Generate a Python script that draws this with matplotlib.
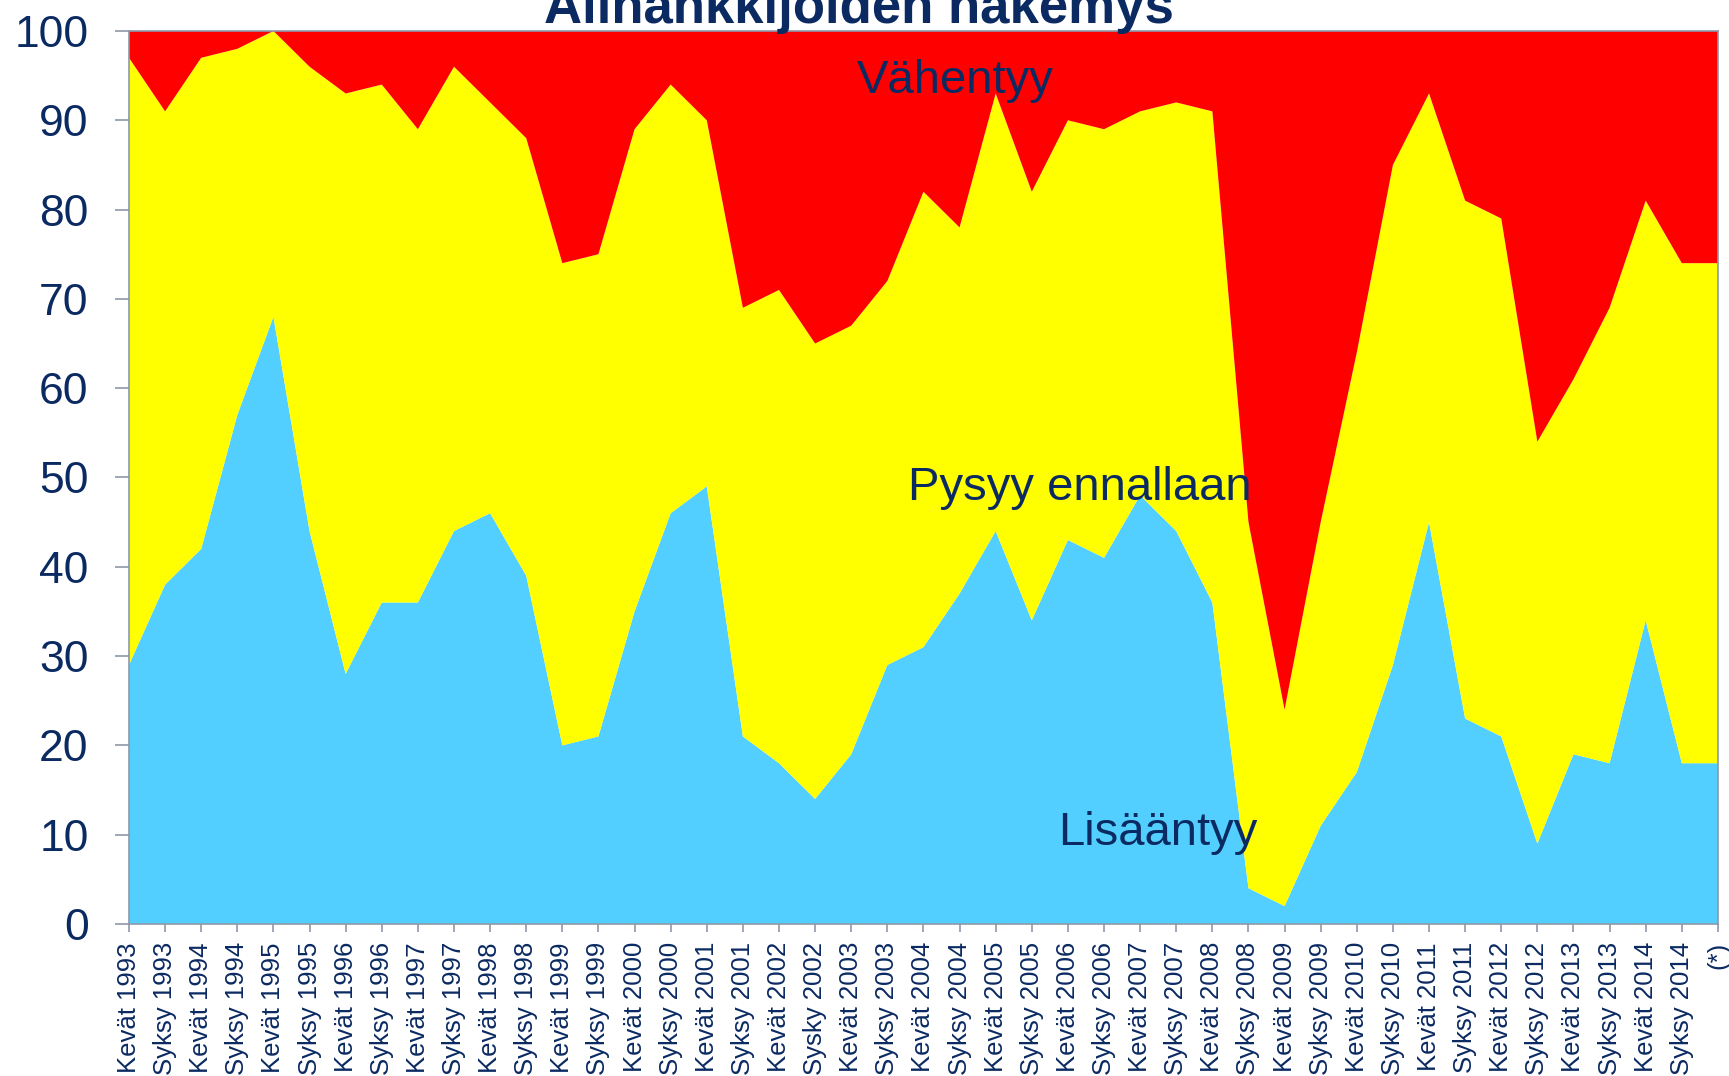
import matplotlib
matplotlib.use("Agg")
import matplotlib.pyplot as plt

plt.rcParams['font.family'] = ['Liberation Sans', 'DejaVu Sans']

# Periods (spring / autumn surveys)
periods = []
for year in range(1993, 2015):
    periods.append('Kevät %d' % year)
    periods.append('Syksy %d' % year)
periods[19] = 'Sysky 2002'  # as spelled in the original
periods.append('(*)')

# Shares of answers, %
lisaantyy = [29, 38, 42, 57, 68, 44, 28, 36, 36, 44, 46, 39, 20, 21, 35,
             46, 49, 21, 18, 14, 19, 29, 31, 37, 44, 34, 43, 41, 48, 44,
             36, 4, 2, 11, 17, 29, 45, 23, 21, 9, 19, 18, 34, 18, 18]
pysyy = [68, 53, 55, 41, 32, 52, 65, 58, 53, 52, 46, 49, 54, 54, 54,
         48, 41, 48, 53, 51, 48, 43, 51, 41, 49, 48, 47, 48, 43, 48,
         55, 41, 22, 34, 47, 56, 48, 58, 58, 45, 42, 51, 47, 56, 56]
vahentyy = [3, 9, 3, 2, 0, 4, 7, 6, 11, 4, 8, 12, 26, 25, 11,
            6, 10, 31, 29, 35, 33, 28, 18, 22, 7, 18, 10, 11, 9, 8,
            9, 55, 76, 55, 36, 15, 7, 19, 21, 46, 39, 31, 19, 26, 26]

navy = '#0b2a62'
grey = '#8e98aa'

fig = plt.figure(figsize=(17.29, 10.76), dpi=100)
ax = fig.add_axes([0.0746, 0.1413, 0.919, 0.8299])

x = range(len(periods))
ax.stackplot(x, lisaantyy, pysyy, vahentyy,
             colors=['#53cfff', '#ffff00', '#ff0000'], linewidth=0)

ax.set_xlim(0, len(periods) - 1)
ax.set_ylim(0, 100)
ax.set_yticks(range(0, 101, 10))
ax.set_xticks(list(x))
ax.set_xticklabels(periods, rotation=90, fontsize=18.5, color=navy)
ax.tick_params(axis='y', labelsize=32, labelcolor=navy, length=10,
               width=1.2, color=grey, pad=19)
ax.tick_params(axis='x', length=6, width=1.2, color=grey, pad=7)
for spine in ax.spines.values():
    spine.set_color(grey)
    spine.set_linewidth(1.2)

# Series labels inside the areas
ax.text(22.87, 93.1, 'Vähentyy', fontsize=34, color=navy,
        ha='center', va='baseline')
ax.text(26.34, 47.5, 'Pysyy ennallaan', fontsize=34, color=navy,
        ha='center', va='baseline')
ax.text(28.5, 8.8, 'Lisääntyy', fontsize=34, color=navy,
        ha='center', va='baseline')

# Title sits partly above the top edge, as in the original
fig.text(0.4968, 0.9786, 'Alihankkijoiden näkemys', fontsize=38,
         fontweight='bold', color=navy, ha='center', va='baseline')

fig.savefig('out.png', dpi=100)
